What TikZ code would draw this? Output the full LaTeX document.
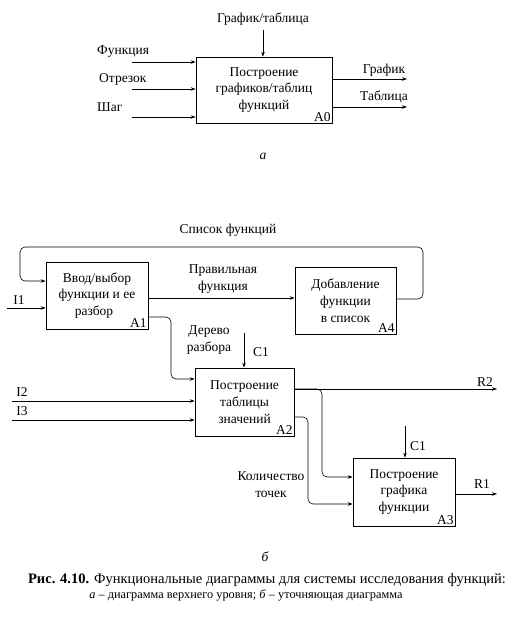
\documentclass[tikz,border=0pt]{standalone}
\usepackage{fontspec}
\setmainfont{Liberation Serif}
\usetikzlibrary{arrows.meta}
\begin{document}
\begin{tikzpicture}[x=1pt,y=-1pt,
  every node/.style={font=\fontsize{13.5}{16.8}\selectfont, inner sep=0pt},
  box/.style={draw, line width=0.7pt, align=center},
  lbl/.style={anchor=south east, inner sep=1.5pt},
  arr/.style={line width=0.6pt, -{Stealth[length=5pt,width=3.5pt]}, rounded corners=5pt},
  ln/.style={line width=0.6pt, rounded corners=5pt}]
\useasboundingbox (0,0) rectangle (530,632);
% ---- diagram a ----
\node[box, minimum width=136pt, minimum height=66pt] (A0) at (264,90) {Построение\\графиков/таблиц\\функций};
\node[lbl] at (A0.south east) {A0};
\node (ctl) at (263,19) {График/таблица};
\coordinate (ctlS) at (263,30);
\draw[arr] (ctlS) -- (ctlS |- A0.north);
\node[anchor=west] (f) at (97,52) {Функция};
\node[anchor=west] (o) at (99,79) {Отрезок};
\node[anchor=west] (s) at (97,107) {Шаг};
\coordinate (i1) at (132,62);
\coordinate (i2) at (132,89);
\coordinate (i3) at (132,117);
\draw[arr] (i1) -- (i1 -| A0.west);
\draw[arr] (i2) -- (i2 -| A0.west);
\draw[arr] (i3) -- (i3 -| A0.west);
\coordinate (o1) at (407,79);
\coordinate (o2) at (407,107);
\draw[arr] (o1 -| A0.east) -- (o1);
\draw[arr] (o2 -| A0.east) -- (o2);
\node (g) at (384,70) {График};
\node (t) at (384,97) {Таблица};
\node (capa) at (263,156) {\itshape а};
% ---- diagram b ----
\node[box, minimum width=102pt, minimum height=67pt] (A1) at (97,295.5) {Ввод/выбор\\функции и ее\\разбор\hspace*{6pt}};
\node[lbl] at (A1.south east) {A1};
\node[box, minimum width=101pt, minimum height=67pt] (A4) at (345.5,300.5) {Добавление\\функции\\в список};
\node[lbl] at (A4.south east) {A4};
\node[box, minimum width=99pt, minimum height=68pt] (A2) at (244.5,402) {Построение\\таблицы\\значений};
\node[lbl] at (A2.south east) {A2};
\node[box, minimum width=102pt, minimum height=68pt] (A3) at (404,492) {Построение\\графика\\функции};
\node[lbl] at (A3.south east) {A3};
% list loop
\coordinate (lr) at (423,247);
\coordinate (ll) at (20,247);
\coordinate (loopout) at (A4.east |- 0,299);
\coordinate (loopin) at (20,281);
\draw[arr] (loopout) -| (lr) -- (ll) |- (loopin -| A1.west);
\node (sf) at (228,230) {Список функций};
% correct function
\coordinate (pf) at (0,298);
\draw[arr] (pf -| A1.east) -- (pf -| A4.west);
\node[align=center] (pft) at (223,279) {Правильная\\функция};
% I1
\coordinate (I1s) at (7,308);
\draw[arr] (I1s) -- (I1s -| A1.west);
\node (I1) at (19,300) {I1};
% parse tree
\coordinate (dt1) at (0,317);
\coordinate (dt2) at (171,379);
\draw[arr] (dt1 -| A1.east) -| (dt2) -- (dt2 -| A2.west);
\node[align=center] (dtt) at (209,340) {Дерево\\разбора};
% C1 for A2
\coordinate (c1s) at (244,333);
\draw[arr] (c1s) -- (c1s |- A2.north);
\node (c1l) at (261,352) {C1};
% I2, I3
\coordinate (I2s) at (12,401);
\coordinate (I3s) at (12,420);
\draw[arr] (I2s) -- (I2s -| A2.west);
\draw[arr] (I3s) -- (I3s -| A2.west);
\node (I2) at (22,392) {I2};
\node (I3) at (22,411) {I3};
% R2 and branch
\coordinate (r2e) at (497,389);
\coordinate (br) at (322,389);
\coordinate (brd) at (322,477);
\draw[arr] (r2e -| A2.east) -- (r2e);
\draw[arr] (r2e -| A2.east) -- (br) |- (brd -| A3.west);
\node (R2) at (485,382) {R2};
% number of points
\coordinate (kp1) at (308,417);
\coordinate (kp2) at (308,504);
\draw[arr] (kp1 -| A2.east) -- (kp1) |- (kp2 -| A3.west);
\node[align=center] (kpt) at (271,485) {Количество\\точек};
% C1 for A3
\coordinate (c2s) at (405,426);
\draw[arr] (c2s) -- (c2s |- A3.north);
\node (c2l) at (418,446) {C1};
% R1
\coordinate (r1e) at (497,494);
\draw[arr] (r1e -| A3.east) -- (r1e);
\node (R1) at (482,484) {R1};
\node (capb) at (265,557) {\itshape б};
% caption
\node (cap1) at (267,580) {\fontsize{14.5}{17}\selectfont\textbf{Рис. 4.10.} Функциональные диаграммы для системы исследования функций:};
\node (cap2) at (246,595) {\fontsize{12.3}{14}\selectfont\textit{а} – диаграмма верхнего уровня; \textit{б} – уточняющая диаграмма};
\end{tikzpicture}
\end{document}
